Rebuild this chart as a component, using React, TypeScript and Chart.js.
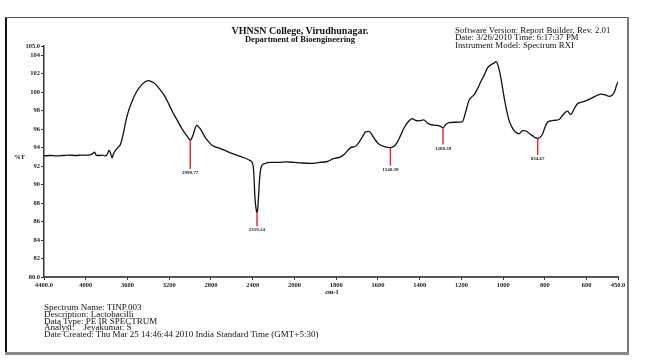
import React, { useEffect, useRef } from "react";
import { Chart, registerables, LinearScale } from "chart.js";

// ---- data ----
const WAVENUMBERS = [
  4400, 4340, 4280, 4220, 4160, 4100, 4040, 3980, 3940, 3915, 3900, 3870, 3840, 3810, 3790, 3778, 3765, 3748, 3735, 3715,
  3700, 3690, 3670, 3655, 3635, 3607, 3580, 3546, 3510, 3479, 3440, 3400, 3370, 3335, 3290, 3239, 3200, 3160, 3120, 3079,
  3040, 3010, 2999, 2985, 2968, 2948, 2935, 2918, 2904, 2880, 2856, 2820, 2791, 2720, 2647, 2580, 2520, 2460, 2424, 2405,
  2392, 2378, 2366, 2359, 2352, 2345, 2335, 2325, 2310, 2290, 2232, 2150, 2080, 2005, 1971, 1923, 1880, 1843, 1813, 1779,
  1760, 1731, 1707, 1690, 1675, 1659, 1645, 1635, 1612, 1596, 1579, 1560, 1540, 1520, 1507, 1492, 1476, 1455, 1436, 1420,
  1405, 1380, 1365, 1348, 1316, 1300, 1288, 1275, 1260, 1230, 1196, 1180, 1164, 1150, 1140, 1125, 1108, 1090, 1076, 1060,
  1044, 1035, 1028, 1020, 1012, 996, 985, 972, 960, 948, 935, 924, 916, 908, 890, 876, 860, 844, 835, 812,
  800, 788, 770, 756, 732, 708, 692, 676, 660, 644, 620, 596, 564, 532, 510, 492, 468, 455, 450,
];
const TRANSMITTANCE = [
  93.1, 93.15, 93.1, 93.15, 93.2, 93.15, 93.2, 93.2, 93.3, 93.5, 93.2, 93.15, 93.2, 93.1, 93.35, 93.7, 93.5, 92.9, 93.3, 93.7,
  93.9, 94.05, 94.3, 94.8, 95.8, 97.3, 98.3, 99.3, 100.1, 100.6, 101.05, 101.25, 101.15, 100.9, 100.3, 99.5, 98.6, 97.7, 96.9, 96.05,
  95.4, 94.95, 94.8, 95.0, 95.5, 96.2, 96.4, 96.25, 96.05, 95.6, 95.1, 94.6, 94.25, 93.95, 93.6, 93.3, 93.05, 92.8, 92.6, 92.4,
  91.6, 88.5, 87.2, 87.0, 87.4, 88.6, 90.5, 91.6, 92.1, 92.25, 92.4, 92.4, 92.45, 92.4, 92.35, 92.3, 92.4, 92.5, 92.8, 93.0,
  93.3, 94.0, 94.15, 94.6, 95.15, 95.7, 95.75, 95.6, 94.8, 94.4, 94.2, 94.05, 94.0, 94.2, 94.6, 95.3, 96.1, 96.8, 97.15, 96.95,
  96.9, 97.0, 96.7, 96.5, 96.4, 96.3, 96.15, 96.5, 96.7, 96.75, 96.8, 97.85, 99.1, 99.5, 99.7, 100.3, 101.1, 101.9, 102.6, 102.95,
  103.15, 103.3, 103.1, 102.5, 101.65, 99.5, 98.2, 96.95, 96.3, 95.85, 95.6, 95.5, 95.65, 95.85, 95.8, 95.55, 95.3, 95.05, 95.0, 95.45,
  96.2, 96.75, 96.9, 96.95, 97.05, 97.7, 97.95, 97.6, 98.2, 98.75, 98.95, 99.15, 99.5, 99.8, 99.7, 99.55, 100.0, 100.85, 101.1,
];

const X_TICKS = [4400, 4000, 3600, 3200, 2800, 2400, 2000, 1800, 1600, 1400, 1200, 1000, 800, 600, 450];
const X_TICK_LABELS = ["4400.0", "4000", "3600", "3200", "2800", "2400", "2000", "1800", "1600", "1400", "1200", "1000", "800", "600", "450.0"];
const Y_TICKS = [80, 82, 84, 86, 88, 90, 92, 94, 96, 98, 100, 102, 104, 105];
const Y_TICK_LABELS = ["80.0", "82", "84", "86", "88", "90", "92", "94", "96", "98", "100", "102", "104", "105.0"];

const PEAK_WN = [2998.77, 2359.24, 1540.39, 1288.39, 834.67];
const PEAK_LABELS = ["2998.77", "2359.24", "1540.39", "1288.39", "834.67"];
const PEAK_TOP = [94.8, 87.0, 94.0, 96.15, 95.0];
const PEAK_BOTTOM = [91.7, 85.5, 92.05, 94.35, 93.2];

const X_MAX = 4400;
const X_MIN = 450;
const X_BREAK = 2000;

// Infrared abscissa with scale change at 2000 cm-1 (400 per division above, 200 per division below)
class IRScale extends LinearScale {
  static id = "irscale";
  static defaults = LinearScale.defaults;
  _units(v: number) {
    return v >= X_BREAK ? (X_MAX - v) / 400 : (X_MAX - X_BREAK) / 400 + (X_BREAK - v) / 200;
  }
  getPixelForValue(v: any) {
    if (v === null || v === undefined) return NaN;
    const total = this._units(X_MIN);
    return this.left + (this.width * this._units(v)) / total;
  }
  getValueForPixel(p: number) {
    const total = this._units(X_MIN);
    const u = ((p - this.left) / this.width) * total;
    const ub = (X_MAX - X_BREAK) / 400;
    return u <= ub ? X_MAX - u * 400 : X_BREAK - (u - ub) * 200;
  }
}

Chart.register(...registerables, IRScale as any);

const FONT = '"Liberation Serif", "Times New Roman", serif';

const peakPlugin = {
  id: "peaks",
  afterDatasetsDraw(chart: any) {
    const { ctx } = chart;
    const xs = chart.scales.x;
    const ys = chart.scales.y;
    ctx.save();
    for (let i = 0; i < PEAK_WN.length; i++) {
      const x = xs.getPixelForValue(PEAK_WN[i]);
      const y1 = ys.getPixelForValue(PEAK_TOP[i]);
      const y2 = ys.getPixelForValue(PEAK_BOTTOM[i]);
      ctx.strokeStyle = "#e8202a";
      ctx.lineWidth = 1.4;
      ctx.beginPath();
      ctx.moveTo(x, y1);
      ctx.lineTo(x, y2);
      ctx.stroke();
      ctx.fillStyle = "#222";
      ctx.font = `bold 5px ${FONT}`;
      ctx.textAlign = "center";
      ctx.textBaseline = "middle";
      ctx.fillText(PEAK_LABELS[i], x, y2 + 4);
    }
    ctx.restore();
  },
};

export default function App() {
  const ref = useRef<HTMLCanvasElement | null>(null);

  useEffect(() => {
    if (!ref.current) return;
    const chart = new Chart(ref.current, {
      type: "line",
      data: {
        datasets: [
          {
            data: WAVENUMBERS.map((w, i) => ({ x: w, y: TRANSMITTANCE[i] })),
            borderColor: "#111",
            borderWidth: 1.3,
            pointRadius: 0,
            fill: false,
            cubicInterpolationMode: "monotone",
          },
        ],
      },
      options: {
        animation: false,
        responsive: false,
        events: [],
        layout: { padding: { left: 0, top: 46, right: 27, bottom: 0 } },
        plugins: { legend: { display: false }, tooltip: { enabled: false }, title: { display: false } },
        scales: {
          x: {
            type: "irscale" as any,
            min: X_MIN,
            max: X_MAX,
            afterBuildTicks: (s: any) => {
              s.ticks = X_TICKS.map((v) => ({ value: v }));
            },
            afterFit: (s: any) => {
              s.height = 84;
            },
            ticks: {
              autoSkip: false,
              maxRotation: 0,
              padding: 1,
              color: "#222",
              font: { family: FONT, size: 6.5, weight: "bold" },
              callback: (_v: any, i: number) => X_TICK_LABELS[i],
            },
            grid: { drawOnChartArea: false, drawTicks: true, tickLength: 3, color: "#333", lineWidth: 1 },
            border: { display: true, color: "#555", width: 2 },
          },
          y: {
            type: "linear",
            min: 80,
            max: 105,
            afterBuildTicks: (s: any) => {
              s.ticks = Y_TICKS.map((v) => ({ value: v }));
            },
            afterFit: (s: any) => {
              s.width = 44;
            },
            ticks: {
              autoSkip: false,
              padding: 1,
              color: "#222",
              font: { family: FONT, size: 6.5, weight: "bold" },
              callback: (_v: any, i: number) => Y_TICK_LABELS[i],
            },
            grid: { drawOnChartArea: false, drawTicks: true, tickLength: 3, color: "#333", lineWidth: 1 },
            border: { display: true, color: "#333", width: 1.5 },
          },
        },
      },
      plugins: [peakPlugin],
    });
    return () => chart.destroy();
  }, []);

  const txt = (extra: any) => ({
    position: "absolute" as const,
    whiteSpace: "nowrap" as const,
    fontFamily: FONT,
    color: "#111",
    ...extra,
  });

  return (
    <div style={{ position: "absolute", left: 0, top: 0, width: 645, height: 361, background: "#fff", overflow: "hidden" }}>
      <canvas ref={ref} width={645} height={361} style={{ position: "absolute", left: 0, top: 0 }} />
      {/* frame */}
      <div style={{ position: "absolute", left: 5, top: 17, width: 2, height: 338, background: "#111" }} />
      <div style={{ position: "absolute", left: 5, top: 17, width: 624, height: 1, background: "#555" }} />
      <div style={{ position: "absolute", left: 627, top: 17, width: 2, height: 338, background: "#777" }} />
      <div style={{ position: "absolute", left: 5, top: 352, width: 624, height: 3, background: "#888" }} />
      {/* header */}
      <div style={txt({ left: 300, top: 27, transform: "translateX(-50%)", fontSize: 10, fontWeight: "bold", lineHeight: "8px", textAlign: "center" })}>
        VHNSN College, Virudhunagar.
        <br />
        <span style={{ fontSize: 8.5 }}>Department of Bioengineering</span>
      </div>
      <div style={txt({ left: 455, top: 27, fontSize: 8.8, lineHeight: "7.3px" })}>
        Software Version: Report Builder, Rev. 2.01
        <br />
        Date: 3/26/2010 Time: 6:17:37 PM
        <br />
        Instrument Model: Spectrum RXI
      </div>
      {/* axis titles */}
      <div style={txt({ left: 14, top: 153, fontSize: 6.5, fontWeight: "bold", lineHeight: "8px" })}>%T</div>
      <div style={txt({ left: 332, top: 288, transform: "translateX(-50%)", fontSize: 6.5, fontWeight: "bold", lineHeight: "8px" })}>cm-1</div>
      {/* footer */}
      <div style={txt({ left: 44, top: 304, fontSize: 9, lineHeight: "6.8px" })}>
        Spectrum Name: TINP.003
        <br />
        Description: Lactobacilli
        <br />
        Data Type: PE IR SPECTRUM
        <br />
        Analyst: &nbsp;&nbsp;&nbsp;Jeyakumar. S
        <br />
        Date Created: Thu Mar 25 14:46:44 2010 India Standard Time (GMT+5:30)
      </div>
    </div>
  );
}
